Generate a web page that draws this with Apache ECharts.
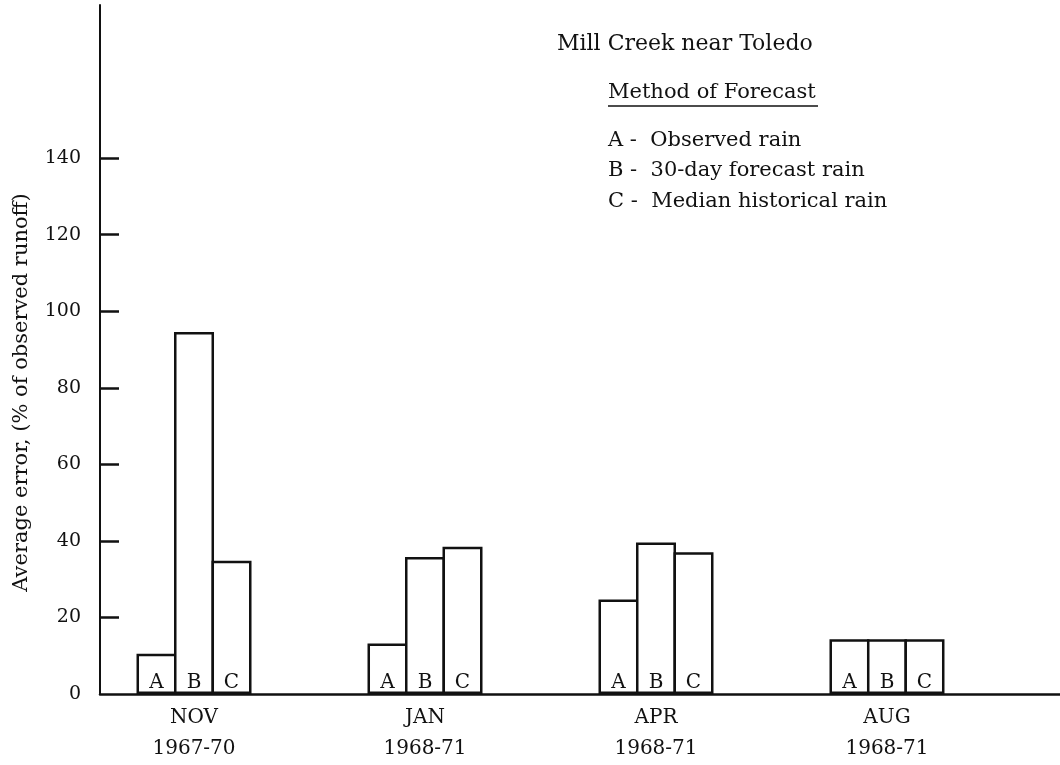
<!DOCTYPE html>
<html>
<head>
<meta charset="utf-8">
<script src="https://cdn.jsdelivr.net/npm/echarts@6/dist/echarts.min.js"></script>
<style>
  html, body { margin: 0; padding: 0; background: #fff; }
  #chart { width: 1060px; height: 765px; }
</style>
</head>
<body>
<div id="chart"></div>
<script>
// Forecast periods (x categories)
const months = ['NOV', 'JAN', 'APR', 'AUG'];
const years = ['1967-70', '1968-71', '1968-71', '1968-71'];

// Forecast methods
const methodKeys = ['A', 'B', 'C'];
const methodNames = ['Observed rain', '30-day forecast rain', 'Median historical rain'];

// Average error, % of observed runoff, per method
const errA = [10.5, 13.2, 24.7, 14.3];
const errB = [94.6, 35.8, 39.6, 14.3];
const errC = [34.8, 38.5, 37.0, 14.3];

const yTicks = [0, 20, 40, 60, 80, 100, 120, 140];

const stationTitle = 'Mill Creek near Toledo';
const legendHeading = 'Method of Forecast';
const yTitle = 'Average error, (% of observed runoff)';

const FONT = '"DejaVu Serif", serif';
const INK = '#111';

const chart = echarts.init(document.getElementById('chart'), null, { renderer: 'canvas' });

// Bars of one group touch and share their outline: the border is drawn
// inside each bar, so neighbours overlap by exactly one border width.
const BORDER = 2.5;
const BAR_W = 40;
const values = [errA, errB, errC];
const series = methodKeys.map((key, k) => ({
  name: key,
  type: 'bar',
  barWidth: BAR_W,
  barGap: (-100 * BORDER / BAR_W) + '%',
  data: values[k].map((v, i) => [i, v]),
  itemStyle: { color: '#fff', borderColor: INK, borderWidth: BORDER },
  label: {
    show: true,
    position: 'insideBottom',
    distance: 1,
    formatter: key,
    color: INK,
    fontFamily: FONT,
    fontSize: 20
  },
  emphasis: { disabled: true },
  animation: false
}));

// Legend block (text at top right)
const lx = 608;
const TXT = '21px ' + FONT;
const graphics = [
  { type: 'text', left: 557, top: 33, style: { text: stationTitle, font: '22px ' + FONT, fill: INK } },
  { type: 'text', left: lx, top: 82, style: { text: legendHeading, font: TXT, fill: INK } },
  { type: 'line', shape: { x1: lx, y1: 106, x2: lx + 210, y2: 106 }, style: { stroke: INK, lineWidth: 1.6 } }
];
methodKeys.forEach((key, k) => {
  graphics.push({
    type: 'text', left: lx, top: 130 + k * 30.5,
    style: { text: key + ' -  ' + methodNames[k], font: TXT, fill: INK }
  });
});

chart.setOption({
  backgroundColor: '#fff',
  animation: false,
  grid: { left: 100, right: 0, top: 5, bottom: 71, containLabel: false },
  xAxis: {
    type: 'value',
    min: -0.407,
    max: 3.749,
    splitLine: { show: false },
    axisLine: { show: true, onZero: false, lineStyle: { color: INK, width: 2.5 } },
    axisTick: { show: false },
    axisLabel: {
      customValues: [0, 1, 2, 3],
      formatter: (v) => months[Math.round(v)] + '\n' + years[Math.round(v)],
      color: INK,
      fontFamily: FONT,
      fontSize: 20,
      lineHeight: 31,
      margin: 8
    }
  },
  yAxis: {
    type: 'value',
    min: 0,
    max: 180,
    name: yTitle,
    nameLocation: 'middle',
    nameGap: 68,
    nameTextStyle: { color: INK, fontFamily: FONT, fontSize: 21, padding: [0, 86, 0, 0] },
    splitLine: { show: false },
    axisLine: { show: true, onZero: false, lineStyle: { color: INK, width: 2 } },
    axisTick: {
      show: true, inside: true, length: 19,
      customValues: yTicks.slice(1),
      lineStyle: { color: INK, width: 2.5 }
    },
    axisLabel: {
      customValues: yTicks,
      color: INK,
      fontFamily: FONT,
      fontSize: 19,
      margin: 19
    }
  },
  series: series,
  graphic: graphics
});
</script>
</body>
</html>
